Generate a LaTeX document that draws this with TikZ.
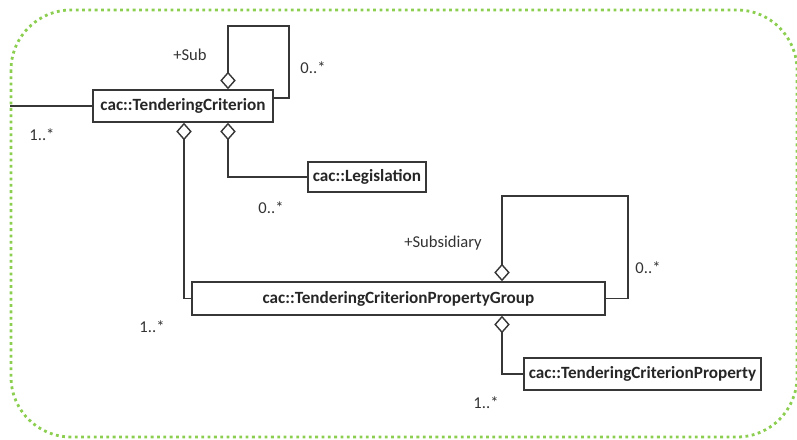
\documentclass[tikz,border=0pt]{standalone}
\usepackage{fontspec}
\setmainfont{Carlito}
\usetikzlibrary{arrows.meta,positioning}
\definecolor{dotgreen}{RGB}{140,206,80}
\definecolor{umlgray}{RGB}{55,55,55}
\tikzset{
  cls/.style={draw=umlgray,line width=1pt,inner sep=0pt,minimum height=0.8cm,font=\fontsize{12.2}{14}\selectfont\bfseries,text=black!85},
  mult/.style={font=\fontsize{11.8}{14}\selectfont,text=black!80,inner sep=0pt},
  agg/.style={draw=umlgray,line width=1pt,{Diamond[open,length=12.5pt,width=11pt]}-}
}
\begin{document}
\begin{tikzpicture}[x=0.025cm,y=-0.025cm]
   \useasboundingbox (0,0) rectangle (797,440);
   \draw[dotgreen,line width=2pt,dash pattern=on 2pt off 2.5pt,rounded corners=1.5cm] (11,10) rectangle (797,437);
   \node [cls,minimum width=4.5cm] (TC) at (183,106) {cac::TenderingCriterion};
   \node [cls,minimum width=2.95cm,minimum height=0.75cm] (L) at (367,177) {cac::Legislation};
   \node [cls,minimum width=10.325cm,minimum height=0.825cm] (TCPG) at (398.5,298.5) {cac::TenderingCriterionPropertyGroup};
   \node [cls,minimum width=5.925cm] (TCP) at (642.5,374) {cac::TenderingCriterionProperty};
   \coordinate (in) at (10,106);
   \draw [draw=umlgray,line width=1pt] (in) -- (TC.west);
   \path [agg]
    (228,0 |- TC.north) |- (289,26) |- ([yshift=0.2cm]TC.east);
   \path [agg] (184,0 |- TC.south) |- (TCPG.west);
   \path [agg] (228,0 |- TC.south) |- (L.west);
   \path [agg] (502,0 |- TCPG.north) |- (628,196) |- (TCPG.east);
   \path [agg] (502,0 |- TCPG.south) |- (TCP.west);
   \node [mult] (m1) at (42,135) {1..*};
   \node [mult] (sub) at (190,55) {+Sub};
   \node [mult] (m2) at (313,68) {0..*};
   \node [mult] (m3) at (271,208) {0..*};
   \node [mult] (subs) at (443,243) {+Subsidiary};
   \node [mult] (m4) at (648,268) {0..*};
   \node [mult] (m5) at (152,327) {1..*};
   \node [mult] (m6) at (486,403) {1..*};
\end{tikzpicture}
\end{document}
